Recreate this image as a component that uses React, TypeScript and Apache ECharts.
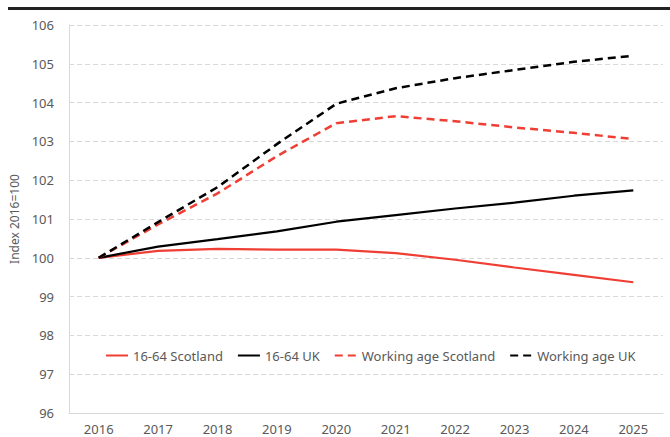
import React, { useEffect, useRef } from "react";
import * as echarts from "echarts";

const years = ["2016", "2017", "2018", "2019", "2020", "2021", "2022", "2023", "2024", "2025"];
const scot1664 = [100, 100.18, 100.23, 100.21, 100.21, 100.12, 99.95, 99.75, 99.56, 99.37];
const uk1664 = [100, 100.29, 100.48, 100.68, 100.93, 101.1, 101.27, 101.42, 101.6, 101.74];
const scotWorking = [100, 100.86, 101.66, 102.62, 103.47, 103.65, 103.52, 103.36, 103.22, 103.06];
const ukWorking = [100, 100.92, 101.82, 102.93, 103.97, 104.37, 104.63, 104.84, 105.05, 105.21];

const RED = "#EF3E33";
const BLACK = "#000000";
const TEXT = "#595959";
const FONT = "Noto Sans";

export default function App() {
  const ref = useRef<HTMLDivElement>(null);
  useEffect(() => {
    if (!ref.current) return;
    const chart = echarts.init(ref.current, null, { renderer: "svg" });
    const line = (name: string, data: number[], color: string, dashed: boolean) => ({
      name,
      type: "line",
      data,
      symbol: "none",
      smooth: false,
      lineStyle: { color, width: dashed ? 2.5 : 2.2, type: dashed ? [8, 5] : "solid" },
      itemStyle: { color },
    });
    chart.setOption({
      animation: false,
      textStyle: { fontFamily: FONT },
      graphic: [
        { type: "rect", shape: { x: 8, y: 7, width: 662, height: 3 }, style: { fill: "#222222" } },
      ],
      grid: { left: 69, right: 7, top: 25, bottom: 24, containLabel: false },
      legend: {
        left: 100,
        top: 344,
        itemWidth: 22,
        itemHeight: 10,
        itemGap: 14,
        itemStyle: { opacity: 0 },
        textStyle: { color: TEXT, fontSize: 13, fontFamily: FONT },
        data: ["16-64 Scotland", "16-64 UK", "Working age Scotland", "Working age UK"],
      },
      xAxis: {
        type: "category",
        data: years,
        boundaryGap: true,
        axisLine: { show: true, lineStyle: { color: "#d9d9d9" } },
        axisTick: { show: false },
        axisLabel: { color: TEXT, fontSize: 13, margin: 9, fontFamily: FONT },
      },
      yAxis: {
        type: "value",
        min: 96,
        max: 106,
        interval: 1,
        name: "Index 2016=100",
        nameLocation: "middle",
        nameGap: 48,
        nameTextStyle: { color: TEXT, fontSize: 12, fontFamily: FONT },
        axisLine: { show: true, lineStyle: { color: "#d9d9d9" } },
        axisTick: { show: false },
        axisLabel: { color: TEXT, fontSize: 13, margin: 15, fontFamily: FONT },
        splitLine: { show: true, lineStyle: { color: "#d9d9d9", type: [5, 3] } },
      },
      series: [
        line("16-64 Scotland", scot1664, RED, false),
        line("16-64 UK", uk1664, BLACK, false),
        line("Working age Scotland", scotWorking, RED, true),
        line("Working age UK", ukWorking, BLACK, true),
      ],
    });
    return () => chart.dispose();
  }, []);
  return <div ref={ref} style={{ width: 670, height: 437, position: "absolute", left: 0, top: 0 }} />;
}
